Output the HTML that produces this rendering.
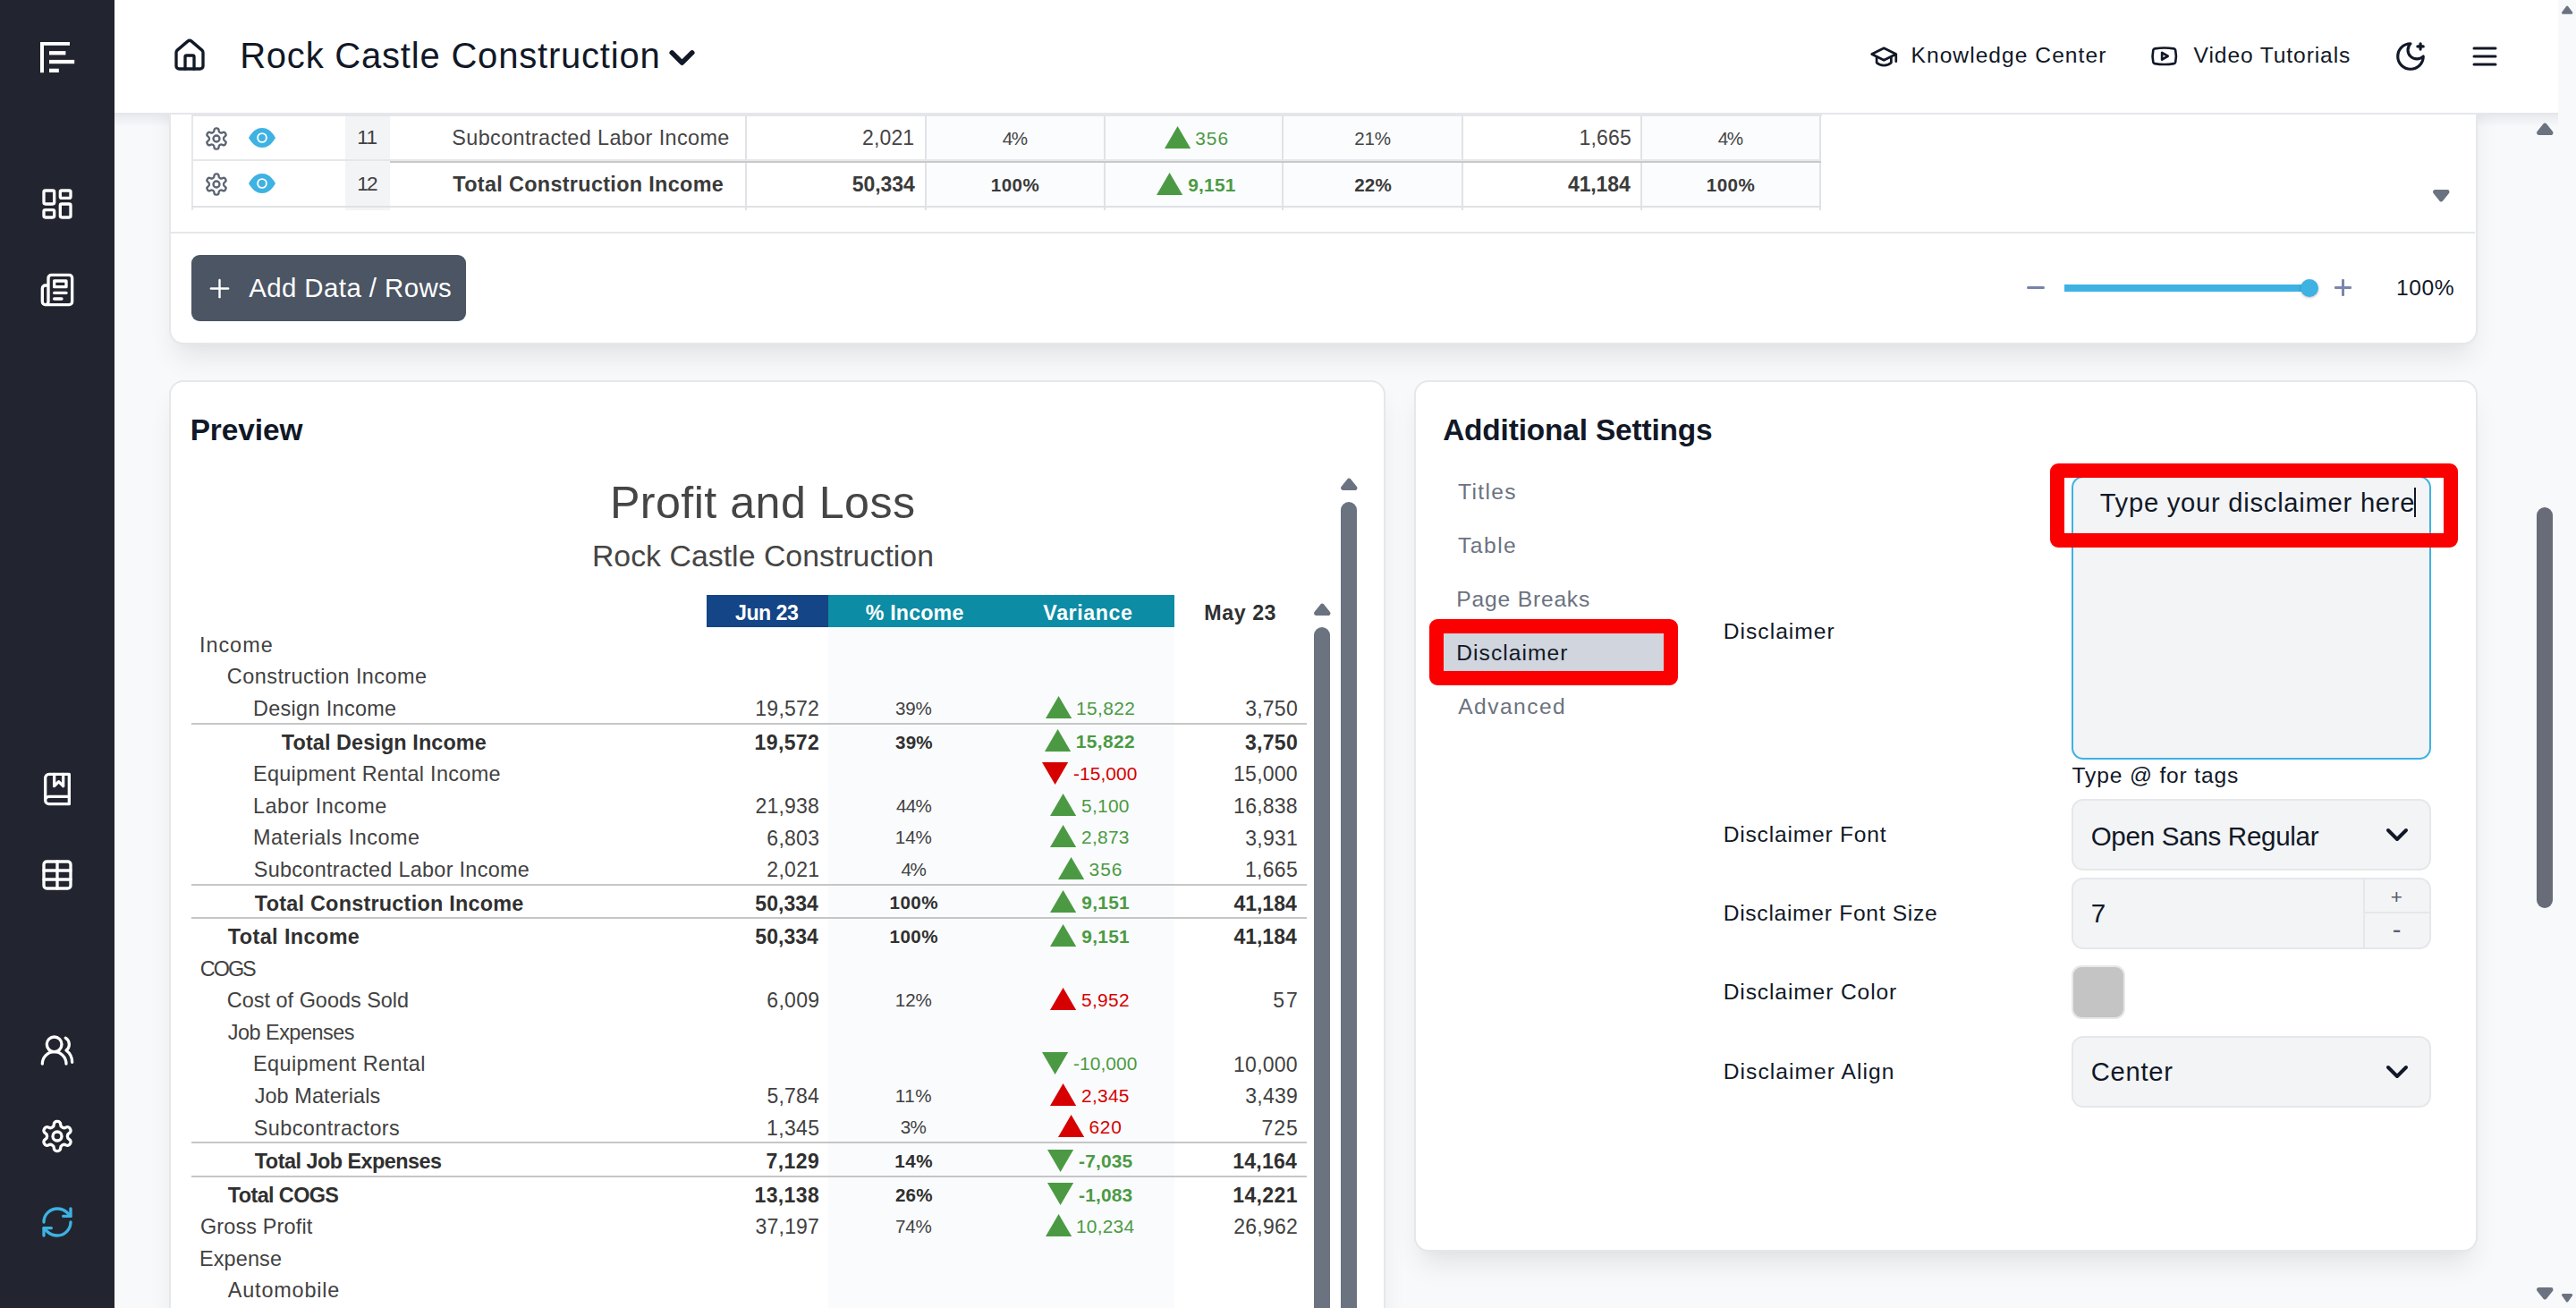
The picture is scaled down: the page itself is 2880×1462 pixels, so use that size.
<!DOCTYPE html>
<html lang="en"><head><meta charset="utf-8"><title>Rock Castle Construction - Report Editor</title>
<style>
html,body{margin:0;padding:0;}
html{overflow:hidden;background:#f8f9fb;}
@media (max-width:1600px){html{zoom:.5;}}
body{width:2880px;height:1462px;overflow:hidden;position:relative;background:#f8f9fb;font-family:"Liberation Sans",sans-serif;color:#111827;}
.t{position:absolute;white-space:nowrap;font-family:"Liberation Sans",sans-serif;}
.abs{position:absolute;}
svg{position:absolute;overflow:visible;}
.ic{fill:none;stroke:currentColor;stroke-width:2;stroke-linecap:round;stroke-linejoin:round;}
#sidebar{left:0;top:0;width:128px;height:1462px;background:#22252f;}
#header{left:128px;top:0;width:2732px;height:126px;background:#fff;}
#hshadow{left:128px;top:126px;width:2732px;height:2px;background:#e5e7eb;}
#hgrad{left:128px;top:128px;width:2732px;height:14px;background:linear-gradient(#e9eaee,rgba(248,249,251,0));}
#main{left:128px;top:126px;width:2732px;height:1336px;overflow:hidden;}
.card{position:absolute;background:#fff;border:2px solid #e5e7eb;box-sizing:border-box;border-radius:16px;box-shadow:0 20px 30px -6px rgba(0,0,0,.085),0 8px 12px -8px rgba(0,0,0,.03);}
</style></head><body>

<div id="main" class="abs"><div class="abs" style="left:-128px;top:-126px;width:2880px;height:1462px;">
<div id="hgrad" class="abs"></div>
<div class="card" style="left:189px;top:-40px;width:2581px;height:425px;"></div>
<div class="abs" style="left:1036px;top:126px;width:198.5px;height:108px;background:#fbfcfe;"></div>
<div class="abs" style="left:1236px;top:126px;width:197.5px;height:108px;background:#fbfcfe;"></div>
<div class="abs" style="left:1435px;top:126px;width:199px;height:108px;background:#fbfcfe;"></div>
<div class="abs" style="left:1836px;top:126px;width:198px;height:108px;background:#fbfcfe;"></div>
<div class="abs" style="left:386px;top:126px;width:50px;height:109px;background:#f3f4f6;"></div>
<div class="abs" style="left:214px;top:126px;width:2px;height:109px;background:#e5e7eb;"></div>
<div class="abs" style="left:833.4px;top:126px;width:2px;height:109px;background:#e1e2e6;"></div>
<div class="abs" style="left:1034.4px;top:126px;width:2px;height:109px;background:#e1e2e6;"></div>
<div class="abs" style="left:1234.2px;top:126px;width:2px;height:109px;background:#e1e2e6;"></div>
<div class="abs" style="left:1433.4px;top:126px;width:2px;height:109px;background:#e1e2e6;"></div>
<div class="abs" style="left:1633.6px;top:126px;width:2px;height:109px;background:#e1e2e6;"></div>
<div class="abs" style="left:1834px;top:126px;width:2px;height:109px;background:#e1e2e6;"></div>
<div class="abs" style="left:2034px;top:126px;width:2px;height:109px;background:#e1e2e6;"></div>
<div class="abs" style="left:214px;top:178px;width:1822px;height:2px;background:#e5e7eb;"></div>
<div class="abs" style="left:436px;top:180px;width:1600px;height:2px;background:#c9c9c9;"></div>
<div class="abs" style="left:214px;top:230px;width:1822px;height:2px;background:#e0e1e5;"></div>
<div class="abs" style="left:386px;top:232px;width:50px;height:3px;background:#f3f4f6;"></div>
<div class="abs" style="left:214px;top:126px;width:1823px;height:4px;background:#e4e5e9;"></div>
<svg class="ic" style="left:228.00px;top:141.30px;color:#5d6474;stroke-width:2;" width="28" height="28" viewBox="0 0 24 24"><path d="M12.22 2h-.44a2 2 0 0 0-2 2v.18a2 2 0 0 1-1 1.73l-.43.25a2 2 0 0 1-2 0l-.15-.08a2 2 0 0 0-2.73.73l-.22.38a2 2 0 0 0 .73 2.73l.15.1a2 2 0 0 1 1 1.72v.51a2 2 0 0 1-1 1.74l-.15.09a2 2 0 0 0-.73 2.73l.22.38a2 2 0 0 0 2.73.73l.15-.08a2 2 0 0 1 2 0l.43.25a2 2 0 0 1 1 1.73V20a2 2 0 0 0 2 2h.44a2 2 0 0 0 2-2v-.18a2 2 0 0 1 1-1.73l.43-.25a2 2 0 0 1 2 0l.15.08a2 2 0 0 0 2.73-.73l.22-.39a2 2 0 0 0-.73-2.73l-.15-.08a2 2 0 0 1-1-1.74v-.5a2 2 0 0 1 1-1.74l.15-.09a2 2 0 0 0 .73-2.73l-.22-.38a2 2 0 0 0-2.73-.73l-.15.08a2 2 0 0 1-2 0l-.43-.25a2 2 0 0 1-1-1.73V4a2 2 0 0 0-2-2z"/><circle cx="12" cy="12" r="3"/></svg>
<svg style="left:278.00px;top:143.10px;" width="30" height="22" viewBox="0 0 30 22"><path d="M0 11 C4.5 3.2 9.5 0 15 0 C20.5 0 25.5 3.2 30 11 C25.5 18.8 20.5 22 15 22 C9.5 22 4.5 18.8 0 11 Z" fill="#3db2e3"/><circle cx="15" cy="11" r="4.9" fill="none" stroke="#fff" stroke-width="1.9"/></svg>
<div class="t " style="left:399.34px;top:139.47px;font-size:22.60px;line-height:29px;color:#414141;letter-spacing:-0.810px;">11</div>
<div class="t " style="left:505.32px;top:138.69px;font-size:23.40px;line-height:30px;color:#444444;letter-spacing:0.384px;">Subcontracted Labor Income</div>
<div class="t " style="left:963.97px;top:138.83px;font-size:23.00px;line-height:30px;color:#444444;letter-spacing:0.145px;">2,021</div>
<div class="t " style="left:1120.80px;top:141.16px;font-size:20.60px;line-height:27px;color:#444444;letter-spacing:-1.450px;">4%</div>
<svg style="left:1301.76px;top:141.00px;" width="29.2" height="25" viewBox="0 0 29.2 25"><polygon points="14.60,0 29.20,25 0,25" fill="#4b9a43"/></svg>
<div class="t " style="left:1336.15px;top:140.56px;font-size:20.90px;line-height:27px;color:#4b9a43;letter-spacing:1.073px;">356</div>
<div class="t " style="left:1514.25px;top:141.16px;font-size:20.60px;line-height:27px;color:#444444;letter-spacing:-0.195px;">21%</div>
<div class="t " style="left:1765.42px;top:138.83px;font-size:23.00px;line-height:30px;color:#444444;letter-spacing:0.193px;">1,665</div>
<div class="t " style="left:1920.80px;top:141.16px;font-size:20.60px;line-height:27px;color:#444444;letter-spacing:-1.450px;">4%</div>
<svg class="ic" style="left:228.00px;top:192.00px;color:#5d6474;stroke-width:2;" width="28" height="28" viewBox="0 0 24 24"><path d="M12.22 2h-.44a2 2 0 0 0-2 2v.18a2 2 0 0 1-1 1.73l-.43.25a2 2 0 0 1-2 0l-.15-.08a2 2 0 0 0-2.73.73l-.22.38a2 2 0 0 0 .73 2.73l.15.1a2 2 0 0 1 1 1.72v.51a2 2 0 0 1-1 1.74l-.15.09a2 2 0 0 0-.73 2.73l.22.38a2 2 0 0 0 2.73.73l.15-.08a2 2 0 0 1 2 0l.43.25a2 2 0 0 1 1 1.73V20a2 2 0 0 0 2 2h.44a2 2 0 0 0 2-2v-.18a2 2 0 0 1 1-1.73l.43-.25a2 2 0 0 1 2 0l.15.08a2 2 0 0 0 2.73-.73l.22-.39a2 2 0 0 0-.73-2.73l-.15-.08a2 2 0 0 1-1-1.74v-.5a2 2 0 0 1 1-1.74l.15-.09a2 2 0 0 0 .73-2.73l-.22-.38a2 2 0 0 0-2.73-.73l-.15.08a2 2 0 0 1-2 0l-.43-.25a2 2 0 0 1-1-1.73V4a2 2 0 0 0-2-2z"/><circle cx="12" cy="12" r="3"/></svg>
<svg style="left:278.00px;top:193.80px;" width="30" height="22" viewBox="0 0 30 22"><path d="M0 11 C4.5 3.2 9.5 0 15 0 C20.5 0 25.5 3.2 30 11 C25.5 18.8 20.5 22 15 22 C9.5 22 4.5 18.8 0 11 Z" fill="#3db2e3"/><circle cx="15" cy="11" r="4.9" fill="none" stroke="#fff" stroke-width="1.9"/></svg>
<div class="t " style="left:399.34px;top:191.47px;font-size:22.60px;line-height:29px;color:#414141;letter-spacing:-1.980px;">12</div>
<div class="t " style="left:506.34px;top:190.69px;font-size:23.40px;line-height:30px;color:#3a3a3a;font-weight:700;letter-spacing:0.330px;">Total Construction Income</div>
<div class="t " style="left:952.78px;top:190.83px;font-size:23.00px;line-height:30px;color:#3a3a3a;font-weight:700;letter-spacing:-0.087px;">50,334</div>
<div class="t " style="left:1107.69px;top:193.16px;font-size:20.60px;line-height:27px;color:#3a3a3a;font-weight:700;letter-spacing:0.490px;">100%</div>
<svg style="left:1293.01px;top:192.90px;" width="29.2" height="25" viewBox="0 0 29.2 25"><polygon points="14.60,0 29.20,25 0,25" fill="#4b9a43"/></svg>
<div class="t " style="left:1328.14px;top:192.56px;font-size:20.90px;line-height:27px;color:#4b9a43;font-weight:700;letter-spacing:0.240px;">9,151</div>
<div class="t " style="left:1514.22px;top:193.16px;font-size:20.60px;line-height:27px;color:#3a3a3a;font-weight:700;letter-spacing:0.155px;">22%</div>
<div class="t " style="left:1753.01px;top:190.83px;font-size:23.00px;line-height:30px;color:#3a3a3a;font-weight:700;letter-spacing:-0.131px;">41,184</div>
<div class="t " style="left:1907.69px;top:193.16px;font-size:20.60px;line-height:27px;color:#3a3a3a;font-weight:700;letter-spacing:0.490px;">100%</div>
<div class="abs" style="left:191px;top:259px;width:2576px;height:2px;background:#e5e7eb;"></div>
<div class="abs" style="left:214px;top:285px;width:307px;height:74px;background:#4b5563;border-radius:9px;"></div>
<svg class="ic" style="left:229.30px;top:306.00px;color:#fff;stroke-width:1.75;" width="33" height="33" viewBox="0 0 24 24"><path d="M5 12h14"/><path d="M12 5v14"/></svg>
<div class="t " style="left:278.13px;top:303.01px;font-size:29.40px;line-height:38px;color:#fff;letter-spacing:0.439px;">Add Data / Rows</div>
<div class="abs" style="left:2266px;top:319.5px;width:20px;height:3px;background:#7883ab;border-radius:1.5px;"></div>
<div class="abs" style="left:2308px;top:317.5px;width:275px;height:8.5px;background:#3db2e3;"></div>
<div class="abs" style="left:2571.5px;top:311.8px;width:20.4px;height:20.4px;background:#3db2e3;border-radius:50%;box-shadow:0 1px 3px rgba(0,0,0,.25);"></div>
<div class="abs" style="left:2609.7px;top:320.2px;width:19.6px;height:2.6px;background:#7b86ad;border-radius:1px;"></div>
<div class="abs" style="left:2618.2px;top:311.7px;width:2.6px;height:19.6px;background:#7b86ad;border-radius:1px;"></div>
<div class="t " style="left:2679.09px;top:306.08px;font-size:24.60px;line-height:32px;color:#111827;letter-spacing:0.587px;">100%</div>
<svg style="left:2719.55px;top:212.00px;" width="18.5" height="14" viewBox="0 0 18.5 14"><path d="M2.40 2.40 L16.10 2.40 L9.25 11.00 Z" fill="#6b7280" stroke="#6b7280" stroke-width="4.8" stroke-linejoin="round"/></svg>
<div class="card" style="left:189px;top:425px;width:1360px;height:1100px;"></div>
<div class="t " style="left:212.65px;top:458.93px;font-size:33.40px;line-height:43px;color:#111827;font-weight:700;letter-spacing:-0.050px;">Preview</div>
<div class="t " style="left:681.89px;top:529.51px;font-size:50.20px;line-height:65px;color:#454545;letter-spacing:0.456px;">Profit and Loss</div>
<div class="t " style="left:661.92px;top:599.19px;font-size:33.80px;line-height:44px;color:#454545;letter-spacing:0.033px;">Rock Castle Construction</div>
<div class="abs" style="left:790px;top:665px;width:136px;height:36px;background:#144586;"></div>
<div class="abs" style="left:926px;top:665px;width:387px;height:36px;background:#0c8ca5;"></div>
<div class="abs" style="left:926px;top:701px;width:387px;height:761px;background:#fafbfd;"></div>
<div class="t " style="left:822.11px;top:669.96px;font-size:23.20px;line-height:30px;color:#fff;font-weight:700;letter-spacing:-0.544px;">Jun 23</div>
<div class="t " style="left:967.74px;top:669.96px;font-size:23.20px;line-height:30px;color:#fff;font-weight:700;letter-spacing:0.186px;">% Income</div>
<div class="t " style="left:1166.36px;top:669.96px;font-size:23.20px;line-height:30px;color:#fff;font-weight:700;letter-spacing:0.581px;">Variance</div>
<div class="t " style="left:1346.31px;top:669.96px;font-size:23.20px;line-height:30px;color:#303030;font-weight:700;letter-spacing:0.576px;">May 23</div>
<div class="t " style="left:222.88px;top:705.89px;font-size:23.40px;line-height:30px;color:#414141;letter-spacing:1.011px;">Income</div>
<div class="t " style="left:253.86px;top:741.47px;font-size:23.40px;line-height:30px;color:#414141;letter-spacing:0.478px;">Construction Income</div>
<div class="t " style="left:282.95px;top:777.05px;font-size:23.40px;line-height:30px;color:#414141;letter-spacing:0.348px;">Design Income</div>
<div class="t " style="left:844.30px;top:777.19px;font-size:23.00px;line-height:30px;color:#414141;letter-spacing:0.254px;">19,572</div>
<div class="t " style="left:1001.03px;top:777.92px;font-size:20.60px;line-height:27px;color:#414141;letter-spacing:-0.185px;">39%</div>
<svg style="left:1168.61px;top:777.86px;" width="29.2" height="25" viewBox="0 0 29.2 25"><polygon points="14.60,0 29.20,25 0,25" fill="#4b9a43"/></svg>
<div class="t " style="left:1203.00px;top:777.82px;font-size:20.90px;line-height:27px;color:#4b9a43;letter-spacing:0.375px;">15,822</div>
<div class="t " style="left:1392.18px;top:777.19px;font-size:23.00px;line-height:30px;color:#414141;letter-spacing:0.242px;">3,750</div>
<div class="abs" style="left:214px;top:807.89px;width:1247px;height:2px;background:#c6c6c6;"></div>
<div class="t " style="left:314.84px;top:814.63px;font-size:23.40px;line-height:30px;color:#303030;font-weight:700;letter-spacing:0.108px;">Total Design Income</div>
<div class="t " style="left:843.52px;top:814.77px;font-size:23.00px;line-height:30px;color:#303030;font-weight:700;letter-spacing:0.389px;">19,572</div>
<div class="t " style="left:1001.08px;top:815.50px;font-size:20.60px;line-height:27px;color:#303030;font-weight:700;letter-spacing:0.125px;">39%</div>
<svg style="left:1168.20px;top:815.44px;" width="29.2" height="25" viewBox="0 0 29.2 25"><polygon points="14.60,0 29.20,25 0,25" fill="#4b9a43"/></svg>
<div class="t " style="left:1202.72px;top:815.40px;font-size:20.90px;line-height:27px;color:#4b9a43;font-weight:700;letter-spacing:0.377px;">15,822</div>
<div class="t " style="left:1392.01px;top:814.77px;font-size:23.00px;line-height:30px;color:#303030;font-weight:700;letter-spacing:0.291px;">3,750</div>
<div class="t " style="left:282.95px;top:850.21px;font-size:23.40px;line-height:30px;color:#414141;letter-spacing:0.337px;">Equipment Rental Income</div>
<svg style="left:1165.32px;top:851.87px;" width="29.2" height="25" viewBox="0 0 29.2 25"><polygon points="0,0 29.20,0 14.60,25" fill="#d60000"/></svg>
<div class="t " style="left:1199.97px;top:850.98px;font-size:20.90px;line-height:27px;color:#d60000;letter-spacing:0.085px;">-15,000</div>
<div class="t " style="left:1379.10px;top:850.35px;font-size:23.00px;line-height:30px;color:#414141;letter-spacing:0.234px;">15,000</div>
<div class="t " style="left:282.95px;top:885.79px;font-size:23.40px;line-height:30px;color:#414141;letter-spacing:0.567px;">Labor Income</div>
<div class="t " style="left:844.55px;top:885.93px;font-size:23.00px;line-height:30px;color:#414141;letter-spacing:0.194px;">21,938</div>
<div class="t " style="left:1001.88px;top:886.66px;font-size:20.60px;line-height:27px;color:#414141;letter-spacing:-0.610px;">44%</div>
<svg style="left:1174.46px;top:886.60px;" width="29.2" height="25" viewBox="0 0 29.2 25"><polygon points="14.60,0 29.20,25 0,25" fill="#4b9a43"/></svg>
<div class="t " style="left:1209.07px;top:886.56px;font-size:20.90px;line-height:27px;color:#4b9a43;letter-spacing:0.267px;">5,100</div>
<div class="t " style="left:1379.10px;top:885.93px;font-size:23.00px;line-height:30px;color:#414141;letter-spacing:0.244px;">16,838</div>
<div class="t " style="left:282.95px;top:921.37px;font-size:23.40px;line-height:30px;color:#414141;letter-spacing:0.539px;">Materials Income</div>
<div class="t " style="left:857.35px;top:921.51px;font-size:23.00px;line-height:30px;color:#414141;letter-spacing:0.269px;">6,803</div>
<div class="t " style="left:1000.83px;top:922.24px;font-size:20.60px;line-height:27px;color:#414141;letter-spacing:-0.085px;">14%</div>
<svg style="left:1174.46px;top:922.18px;" width="29.2" height="25" viewBox="0 0 29.2 25"><polygon points="14.60,0 29.20,25 0,25" fill="#4b9a43"/></svg>
<div class="t " style="left:1209.08px;top:922.14px;font-size:20.90px;line-height:27px;color:#4b9a43;letter-spacing:0.277px;">2,873</div>
<div class="t " style="left:1392.18px;top:921.51px;font-size:23.00px;line-height:30px;color:#414141;letter-spacing:0.267px;">3,931</div>
<div class="t " style="left:283.82px;top:956.95px;font-size:23.40px;line-height:30px;color:#414141;letter-spacing:0.303px;">Subcontracted Labor Income</div>
<div class="t " style="left:857.36px;top:957.09px;font-size:23.00px;line-height:30px;color:#414141;letter-spacing:0.272px;">2,021</div>
<div class="t " style="left:1007.60px;top:957.82px;font-size:20.60px;line-height:27px;color:#414141;letter-spacing:-1.450px;">4%</div>
<svg style="left:1182.81px;top:957.76px;" width="29.2" height="25" viewBox="0 0 29.2 25"><polygon points="14.60,0 29.20,25 0,25" fill="#4b9a43"/></svg>
<div class="t " style="left:1217.40px;top:957.72px;font-size:20.90px;line-height:27px;color:#4b9a43;letter-spacing:1.116px;">356</div>
<div class="t " style="left:1391.91px;top:957.09px;font-size:23.00px;line-height:30px;color:#414141;letter-spacing:0.319px;">1,665</div>
<div class="abs" style="left:214px;top:987.79px;width:1247px;height:2px;background:#c6c6c6;"></div>
<div class="t " style="left:284.84px;top:994.53px;font-size:23.40px;line-height:30px;color:#303030;font-weight:700;letter-spacing:0.248px;">Total Construction Income</div>
<div class="t " style="left:844.35px;top:994.67px;font-size:23.00px;line-height:30px;color:#303030;font-weight:700;letter-spacing:0.039px;">50,334</div>
<div class="t " style="left:994.49px;top:995.40px;font-size:20.60px;line-height:27px;color:#303030;font-weight:700;letter-spacing:0.490px;">100%</div>
<svg style="left:1174.04px;top:995.34px;" width="29.2" height="25" viewBox="0 0 29.2 25"><polygon points="14.60,0 29.20,25 0,25" fill="#4b9a43"/></svg>
<div class="t " style="left:1209.37px;top:995.30px;font-size:20.90px;line-height:27px;color:#4b9a43;font-weight:700;letter-spacing:0.272px;">9,151</div>
<div class="t " style="left:1379.38px;top:994.67px;font-size:23.00px;line-height:30px;color:#303030;font-weight:700;">41,184</div>
<div class="abs" style="left:214px;top:1025.37px;width:1247px;height:2px;background:#c6c6c6;"></div>
<div class="t " style="left:254.84px;top:1032.11px;font-size:23.40px;line-height:30px;color:#303030;font-weight:700;letter-spacing:0.408px;">Total Income</div>
<div class="t " style="left:844.35px;top:1032.25px;font-size:23.00px;line-height:30px;color:#303030;font-weight:700;letter-spacing:0.039px;">50,334</div>
<div class="t " style="left:994.49px;top:1032.98px;font-size:20.60px;line-height:27px;color:#303030;font-weight:700;letter-spacing:0.490px;">100%</div>
<svg style="left:1174.04px;top:1032.92px;" width="29.2" height="25" viewBox="0 0 29.2 25"><polygon points="14.60,0 29.20,25 0,25" fill="#4b9a43"/></svg>
<div class="t " style="left:1209.37px;top:1032.88px;font-size:20.90px;line-height:27px;color:#4b9a43;font-weight:700;letter-spacing:0.272px;">9,151</div>
<div class="t " style="left:1379.38px;top:1032.25px;font-size:23.00px;line-height:30px;color:#303030;font-weight:700;">41,184</div>
<div class="t " style="left:223.86px;top:1067.69px;font-size:23.40px;line-height:30px;color:#414141;letter-spacing:-2.025px;">COGS</div>
<div class="t " style="left:253.86px;top:1103.27px;font-size:23.40px;line-height:30px;color:#414141;letter-spacing:0.024px;">Cost of Goods Sold</div>
<div class="t " style="left:857.35px;top:1103.41px;font-size:23.00px;line-height:30px;color:#414141;letter-spacing:0.274px;">6,009</div>
<div class="t " style="left:1000.83px;top:1104.14px;font-size:20.60px;line-height:27px;color:#414141;letter-spacing:-0.085px;">12%</div>
<svg style="left:1174.46px;top:1104.08px;" width="29.2" height="25" viewBox="0 0 29.2 25"><polygon points="14.60,0 29.20,25 0,25" fill="#d60000"/></svg>
<div class="t " style="left:1209.07px;top:1104.04px;font-size:20.90px;line-height:27px;color:#d60000;letter-spacing:0.292px;">5,952</div>
<div class="t " style="left:1423.29px;top:1103.41px;font-size:23.00px;line-height:30px;color:#414141;letter-spacing:1.966px;">57</div>
<div class="t " style="left:254.67px;top:1138.85px;font-size:23.40px;line-height:30px;color:#414141;letter-spacing:-0.465px;">Job Expenses</div>
<div class="t " style="left:282.95px;top:1174.43px;font-size:23.40px;line-height:30px;color:#414141;letter-spacing:0.442px;">Equipment Rental</div>
<svg style="left:1165.32px;top:1176.09px;" width="29.2" height="25" viewBox="0 0 29.2 25"><polygon points="0,0 29.20,0 14.60,25" fill="#4b9a43"/></svg>
<div class="t " style="left:1199.97px;top:1175.20px;font-size:20.90px;line-height:27px;color:#4b9a43;letter-spacing:0.085px;">-10,000</div>
<div class="t " style="left:1379.10px;top:1174.57px;font-size:23.00px;line-height:30px;color:#414141;letter-spacing:0.234px;">10,000</div>
<div class="t " style="left:284.67px;top:1210.01px;font-size:23.40px;line-height:30px;color:#414141;letter-spacing:0.115px;">Job Materials</div>
<div class="t " style="left:857.40px;top:1210.15px;font-size:23.00px;line-height:30px;color:#414141;letter-spacing:0.217px;">5,784</div>
<div class="t " style="left:1000.83px;top:1210.88px;font-size:20.60px;line-height:27px;color:#414141;letter-spacing:0.515px;">11%</div>
<svg style="left:1174.46px;top:1210.82px;" width="29.2" height="25" viewBox="0 0 29.2 25"><polygon points="14.60,0 29.20,25 0,25" fill="#d60000"/></svg>
<div class="t " style="left:1209.08px;top:1210.78px;font-size:20.90px;line-height:27px;color:#d60000;letter-spacing:0.272px;">2,345</div>
<div class="t " style="left:1392.18px;top:1210.15px;font-size:23.00px;line-height:30px;color:#414141;letter-spacing:0.264px;">3,439</div>
<div class="t " style="left:283.82px;top:1245.59px;font-size:23.40px;line-height:30px;color:#414141;letter-spacing:0.435px;">Subcontractors</div>
<div class="t " style="left:857.11px;top:1245.73px;font-size:23.00px;line-height:30px;color:#414141;letter-spacing:0.319px;">1,345</div>
<div class="t " style="left:1006.75px;top:1246.46px;font-size:20.60px;line-height:27px;color:#414141;letter-spacing:-0.600px;">3%</div>
<svg style="left:1182.81px;top:1246.40px;" width="29.2" height="25" viewBox="0 0 29.2 25"><polygon points="14.60,0 29.20,25 0,25" fill="#d60000"/></svg>
<div class="t " style="left:1217.42px;top:1246.36px;font-size:20.90px;line-height:27px;color:#d60000;letter-spacing:0.786px;">620</div>
<div class="t " style="left:1410.46px;top:1245.73px;font-size:23.00px;line-height:30px;color:#414141;letter-spacing:0.923px;">725</div>
<div class="abs" style="left:214px;top:1276.43px;width:1247px;height:2px;background:#c6c6c6;"></div>
<div class="t " style="left:284.84px;top:1283.17px;font-size:23.40px;line-height:30px;color:#303030;font-weight:700;letter-spacing:-0.508px;">Total Job Expenses</div>
<div class="t " style="left:856.50px;top:1283.31px;font-size:23.00px;line-height:30px;color:#303030;font-weight:700;letter-spacing:0.459px;">7,129</div>
<div class="t " style="left:1000.20px;top:1284.04px;font-size:20.60px;line-height:27px;color:#303030;font-weight:700;letter-spacing:0.565px;">14%</div>
<svg style="left:1170.75px;top:1284.83px;" width="29.2" height="25" viewBox="0 0 29.2 25"><polygon points="0,0 29.20,0 14.60,25" fill="#4b9a43"/></svg>
<div class="t " style="left:1206.06px;top:1283.94px;font-size:20.90px;line-height:27px;color:#4b9a43;font-weight:700;letter-spacing:0.161px;">-7,035</div>
<div class="t " style="left:1378.32px;top:1283.31px;font-size:23.00px;line-height:30px;color:#303030;font-weight:700;letter-spacing:0.205px;">14,164</div>
<div class="abs" style="left:214px;top:1314.01px;width:1247px;height:2px;background:#c6c6c6;"></div>
<div class="t " style="left:254.84px;top:1320.75px;font-size:23.40px;line-height:30px;color:#303030;font-weight:700;letter-spacing:-0.601px;">Total COGS</div>
<div class="t " style="left:843.52px;top:1320.89px;font-size:23.00px;line-height:30px;color:#303030;font-weight:700;letter-spacing:0.373px;">13,138</div>
<div class="t " style="left:1001.02px;top:1321.62px;font-size:20.60px;line-height:27px;color:#303030;font-weight:700;letter-spacing:0.155px;">26%</div>
<svg style="left:1170.75px;top:1322.41px;" width="29.2" height="25" viewBox="0 0 29.2 25"><polygon points="0,0 29.20,0 14.60,25" fill="#4b9a43"/></svg>
<div class="t " style="left:1206.06px;top:1321.52px;font-size:20.90px;line-height:27px;color:#4b9a43;font-weight:700;letter-spacing:0.179px;">-1,083</div>
<div class="t " style="left:1378.32px;top:1320.89px;font-size:23.00px;line-height:30px;color:#303030;font-weight:700;letter-spacing:0.363px;">14,221</div>
<div class="t " style="left:223.88px;top:1356.33px;font-size:23.40px;line-height:30px;color:#414141;letter-spacing:0.178px;">Gross Profit</div>
<div class="t " style="left:844.57px;top:1356.47px;font-size:23.00px;line-height:30px;color:#414141;letter-spacing:0.198px;">37,197</div>
<div class="t " style="left:1001.04px;top:1357.20px;font-size:20.60px;line-height:27px;color:#414141;letter-spacing:-0.185px;">74%</div>
<svg style="left:1168.61px;top:1357.14px;" width="29.2" height="25" viewBox="0 0 29.2 25"><polygon points="14.60,0 29.20,25 0,25" fill="#4b9a43"/></svg>
<div class="t " style="left:1203.00px;top:1357.10px;font-size:20.90px;line-height:27px;color:#4b9a43;letter-spacing:0.221px;">10,234</div>
<div class="t " style="left:1379.35px;top:1356.47px;font-size:23.00px;line-height:30px;color:#414141;letter-spacing:0.204px;">26,962</div>
<div class="t " style="left:222.95px;top:1391.91px;font-size:23.40px;line-height:30px;color:#414141;letter-spacing:0.159px;">Expense</div>
<div class="t " style="left:254.84px;top:1427.49px;font-size:23.40px;line-height:30px;color:#414141;letter-spacing:0.826px;">Automobile</div>
<svg style="left:1468.75px;top:674.00px;" width="18.5" height="14" viewBox="0 0 18.5 14"><path d="M9.25 3.00 L16.10 11.60 L2.40 11.60 Z" fill="#6b7280" stroke="#6b7280" stroke-width="4.8" stroke-linejoin="round"/></svg>
<div class="abs" style="left:1469.2px;top:701px;width:17.8px;height:800px;background:#6b7280;border-radius:9px;"></div>
<svg style="left:1498.75px;top:534.00px;" width="18.5" height="14" viewBox="0 0 18.5 14"><path d="M9.25 3.00 L16.10 11.60 L2.40 11.60 Z" fill="#6b7280" stroke="#6b7280" stroke-width="4.8" stroke-linejoin="round"/></svg>
<div class="abs" style="left:1499.1px;top:561px;width:17.8px;height:940px;background:#6b7280;border-radius:9px;"></div>
<div class="card" style="left:1581px;top:425px;width:1189px;height:974px;"></div>
<div class="t " style="left:1613.13px;top:458.93px;font-size:33.40px;line-height:43px;color:#111827;font-weight:700;letter-spacing:-0.148px;">Additional Settings</div>
<div class="abs" style="left:1606px;top:700px;width:262px;height:58px;background:#d1d5de;"></div>
<div class="t " style="left:1630.11px;top:534.48px;font-size:24.60px;line-height:32px;color:#6b7280;letter-spacing:1.332px;">Titles</div>
<div class="t " style="left:1630.11px;top:594.48px;font-size:24.60px;line-height:32px;color:#6b7280;letter-spacing:1.461px;">Table</div>
<div class="t " style="left:1628.33px;top:654.28px;font-size:24.60px;line-height:32px;color:#6b7280;letter-spacing:0.814px;">Page Breaks</div>
<div class="t " style="left:1628.33px;top:714.28px;font-size:24.60px;line-height:32px;color:#111827;letter-spacing:1.028px;">Disclaimer</div>
<div class="t " style="left:1630.24px;top:774.28px;font-size:24.60px;line-height:32px;color:#6b7280;letter-spacing:1.449px;">Advanced</div>
<div class="abs" style="left:1598px;top:692px;width:278px;height:74px;border:16px solid #fb0000;border-radius:9px;box-sizing:border-box;"></div>
<div class="t " style="left:1926.73px;top:690.48px;font-size:24.60px;line-height:32px;color:#111827;letter-spacing:1.028px;">Disclaimer</div>
<div class="t " style="left:1926.73px;top:916.68px;font-size:24.60px;line-height:32px;color:#111827;letter-spacing:0.791px;">Disclaimer Font</div>
<div class="t " style="left:1926.73px;top:1004.78px;font-size:24.60px;line-height:32px;color:#111827;letter-spacing:0.711px;">Disclaimer Font Size</div>
<div class="t " style="left:1926.73px;top:1092.98px;font-size:24.60px;line-height:32px;color:#111827;letter-spacing:0.874px;">Disclaimer Color</div>
<div class="t " style="left:1926.73px;top:1181.58px;font-size:24.60px;line-height:32px;color:#111827;letter-spacing:1.053px;">Disclaimer Align</div>
<div class="abs" style="left:2316.3px;top:532px;width:401.6px;height:316.5px;background:#f3f4f6;border:2px solid #3db2e3;border-radius:13px;box-sizing:border-box;"></div>
<div class="t " style="left:2347.67px;top:542.58px;font-size:29.20px;line-height:38px;color:#111827;letter-spacing:0.737px;">Type your disclaimer here</div>
<div class="abs" style="left:2699.4px;top:545.3px;width:2px;height:33px;background:#111827;"></div>
<div class="abs" style="left:2292px;top:518px;width:456px;height:94.2px;border:16px solid #fb0000;border-radius:9px;box-sizing:border-box;"></div>
<div class="t " style="left:2316.61px;top:851.48px;font-size:24.60px;line-height:32px;color:#111827;letter-spacing:0.833px;">Type @ for tags</div>
<div class="abs" style="left:2316.2px;top:893.2px;width:401.8px;height:79.4px;background:#f3f4f6;border:2px solid #e5e7eb;border-radius:13px;box-sizing:border-box;"></div>
<div class="t " style="left:2337.67px;top:915.64px;font-size:29.60px;line-height:38px;color:#111827;letter-spacing:-0.312px;">Open Sans Regular</div>
<svg class="ic" style="left:2660.00px;top:913.20px;color:#111827;stroke-width:2.4;" width="40" height="40" viewBox="0 0 24 24"><path d="m6 9 6 6 6-6"/></svg>
<div class="abs" style="left:2316.2px;top:981.2px;width:401.8px;height:79.4px;background:#f3f4f6;border:2px solid #e5e7eb;border-radius:13px;box-sizing:border-box;"></div>
<div class="t " style="left:2337.73px;top:1001.94px;font-size:29.60px;line-height:38px;color:#111827;">7</div>
<div class="abs" style="left:2641.5px;top:983px;width:2px;height:76px;background:#e5e7eb;"></div>
<div class="abs" style="left:2643px;top:1018.8px;width:73px;height:2px;background:#e5e7eb;"></div>
<div class="t " style="left:2672.85px;top:987.90px;font-size:22.50px;line-height:29px;color:#56606e;">+</div>
<div class="t " style="left:2674.75px;top:1020.15px;font-size:29.00px;line-height:38px;color:#56606e;">-</div>
<div class="abs" style="left:2316.2px;top:1079.2px;width:59.6px;height:59.4px;background:#c4c4c4;border:2px solid #e5e7eb;border-radius:11px;box-sizing:border-box;"></div>
<div class="abs" style="left:2316.2px;top:1158.2px;width:401.8px;height:79.4px;background:#f3f4f6;border:2px solid #e5e7eb;border-radius:13px;box-sizing:border-box;"></div>
<div class="t " style="left:2337.64px;top:1179.28px;font-size:29.20px;line-height:38px;color:#111827;letter-spacing:0.740px;">Center</div>
<svg class="ic" style="left:2660.00px;top:1178.20px;color:#111827;stroke-width:2.4;" width="40" height="40" viewBox="0 0 24 24"><path d="m6 9 6 6 6-6"/></svg>
</div></div>
<svg style="left:2835.75px;top:137.00px;" width="18.5" height="14" viewBox="0 0 18.5 14"><path d="M9.25 3.00 L16.10 11.60 L2.40 11.60 Z" fill="#6b7280" stroke="#6b7280" stroke-width="4.8" stroke-linejoin="round"/></svg>
<div class="abs" style="left:2836px;top:566.5px;width:18px;height:448.5px;background:#676c78;border-radius:9px;"></div>
<svg style="left:2836.25px;top:1439.20px;" width="18.5" height="14" viewBox="0 0 18.5 14"><path d="M2.40 2.40 L16.10 2.40 L9.25 11.00 Z" fill="#6b7280" stroke="#6b7280" stroke-width="4.8" stroke-linejoin="round"/></svg>
<svg style="left:2863.85px;top:6.00px;" width="12.3" height="9.8" viewBox="0 0 12.3 9.8"><path d="M6.15 2.10 L10.80 8.30 L1.50 8.30 Z" fill="#6b7280" stroke="#6b7280" stroke-width="3.0" stroke-linejoin="round"/></svg>
<svg style="left:2864.00px;top:1445.85px;" width="12.2" height="10.1" viewBox="0 0 12.2 10.1"><path d="M1.50 1.50 L10.70 1.50 L6.10 8.00 Z" fill="#6b7280" stroke="#6b7280" stroke-width="3.0" stroke-linejoin="round"/></svg>
<div id="hshadow" class="abs"></div><div id="header" class="abs"></div>
<svg class="ic" style="left:192.00px;top:42.20px;color:#111827;stroke-width:2;" width="40" height="40" viewBox="0 0 24 24"><path d="M15 21v-8a1 1 0 0 0-1-1h-4a1 1 0 0 0-1 1v8"/><path d="M3 10a2 2 0 0 1 .709-1.528l7-5.999a2 2 0 0 1 2.582 0l7 5.999A2 2 0 0 1 21 10v9a2 2 0 0 1-2 2H5a2 2 0 0 1-2-2z"/></svg>
<div class="t " style="left:268.13px;top:36.34px;font-size:40.00px;line-height:52px;color:#111827;letter-spacing:0.796px;">Rock Castle Construction</div>
<svg class="ic" style="left:740.40px;top:41.90px;color:#111827;stroke-width:3;" width="45" height="45" viewBox="0 0 24 24"><path d="m6 9 6 6 6-6"/></svg>
<svg class="ic" style="left:2089.85px;top:46.65px;color:#111827;stroke-width:2;" width="32.5" height="32.5" viewBox="0 0 24 24"><path d="M22 10v6M2 10l10-5 10 5-10 5z"/><path d="M6 12v5c3 3 9 3 12 0v-5"/></svg>
<div class="t " style="left:2136.53px;top:46.08px;font-size:24.60px;line-height:32px;color:#111827;letter-spacing:1.032px;">Knowledge Center</div>
<svg class="ic" style="left:2404.45px;top:46.95px;color:#111827;stroke-width:2;" width="31.5" height="31.5" viewBox="0 0 24 24"><path d="M2.5 17a24.12 24.12 0 0 1 0-10 2 2 0 0 1 1.4-1.4 49.56 49.56 0 0 1 16.2 0A2 2 0 0 1 21.5 7a24.12 24.12 0 0 1 0 10 2 2 0 0 1-1.4 1.4 49.55 49.55 0 0 1-16.2 0A2 2 0 0 1 2.5 17"/><path d="m10 15 5-3-5-3z"/></svg>
<div class="t " style="left:2452.61px;top:46.08px;font-size:24.60px;line-height:32px;color:#111827;letter-spacing:0.890px;">Video Tutorials</div>
<svg class="ic" style="left:2675.80px;top:43.80px;color:#111827;stroke-width:2;" width="38" height="38" viewBox="0 0 24 24"><path d="M12 3a6 6 0 0 0 9 9 9 9 0 1 1-9-9Z"/><path d="M19 3v4"/><path d="M21 5h-4"/></svg>
<svg class="ic" style="left:2759.80px;top:44.50px;color:#111827;stroke-width:2;" width="36" height="36" viewBox="0 0 24 24"><line x1="4" x2="20" y1="12" y2="12"/><line x1="4" x2="20" y1="6" y2="6"/><line x1="4" x2="20" y1="18" y2="18"/></svg>
<div id="sidebar" class="abs"></div>
<svg style="left:45px;top:46.8px;" width="40" height="36" viewBox="0 0 40 36"><g fill="#fff"><rect x="0" y="0" width="4" height="34.2"/><rect x="0" y="0" width="33" height="3.8"/><rect x="10" y="10.1" width="18.4" height="4.3"/><rect x="10" y="19.9" width="28.2" height="4.3"/><rect x="10" y="29.7" width="10.8" height="4.3"/></g></svg>
<svg class="ic" style="left:44.00px;top:208.00px;color:#fff;stroke-width:2;" width="40" height="40" viewBox="0 0 24 24"><rect width="7" height="9" x="3" y="3" rx="1"/><rect width="7" height="5" x="14" y="3" rx="1"/><rect width="7" height="9" x="14" y="12" rx="1"/><rect width="7" height="5" x="3" y="16" rx="1"/></svg>
<svg class="ic" style="left:44.20px;top:303.80px;color:#fff;stroke-width:2;" width="40" height="40" viewBox="0 0 24 24"><path d="M4 22h16a2 2 0 0 0 2-2V4a2 2 0 0 0-2-2H8a2 2 0 0 0-2 2v16a2 2 0 0 1-2 2Zm0 0a2 2 0 0 1-2-2v-9c0-1.1.9-2 2-2h2"/><path d="M18 14h-8"/><path d="M15 18h-5"/><path d="M10 6h8v4h-8V6Z"/></svg>
<svg class="ic" style="left:44.30px;top:862.00px;color:#fff;stroke-width:2;" width="40" height="40" viewBox="0 0 24 24"><path d="M4 19.5v-15A2.5 2.5 0 0 1 6.5 2H20v20H6.5a2.5 2.5 0 0 1 0-5H20"/><polyline points="10 2 10 10 13 7 16 10 16 2"/></svg>
<svg class="ic" style="left:44.00px;top:958.00px;color:#fff;stroke-width:2;" width="40" height="40" viewBox="0 0 24 24"><path d="M12 3v18"/><rect width="18" height="18" x="3" y="3" rx="2"/><path d="M3 9h18"/><path d="M3 15h18"/></svg>
<svg class="ic" style="left:44.00px;top:1154.00px;color:#fff;stroke-width:2;" width="40" height="40" viewBox="0 0 24 24"><path d="M18 21a8 8 0 0 0-16 0"/><circle cx="10" cy="8" r="5"/><path d="M22 20c0-3.37-2-6.5-4-8a5 5 0 0 0-.45-8.3"/></svg>
<svg class="ic" style="left:44.00px;top:1250.00px;color:#fff;stroke-width:2;" width="40" height="40" viewBox="0 0 24 24"><path d="M12.22 2h-.44a2 2 0 0 0-2 2v.18a2 2 0 0 1-1 1.73l-.43.25a2 2 0 0 1-2 0l-.15-.08a2 2 0 0 0-2.73.73l-.22.38a2 2 0 0 0 .73 2.73l.15.1a2 2 0 0 1 1 1.72v.51a2 2 0 0 1-1 1.74l-.15.09a2 2 0 0 0-.73 2.73l.22.38a2 2 0 0 0 2.73.73l.15-.08a2 2 0 0 1 2 0l.43.25a2 2 0 0 1 1 1.73V20a2 2 0 0 0 2 2h.44a2 2 0 0 0 2-2v-.18a2 2 0 0 1 1-1.73l.43-.25a2 2 0 0 1 2 0l.15.08a2 2 0 0 0 2.73-.73l.22-.39a2 2 0 0 0-.73-2.73l-.15-.08a2 2 0 0 1-1-1.74v-.5a2 2 0 0 1 1-1.74l.15-.09a2 2 0 0 0 .73-2.73l-.22-.38a2 2 0 0 0-2.73-.73l-.15.08a2 2 0 0 1-2 0l-.43-.25a2 2 0 0 1-1-1.73V4a2 2 0 0 0-2-2z"/><circle cx="12" cy="12" r="3"/></svg>
<svg class="ic" style="left:44.00px;top:1346.00px;color:#3db2e3;stroke-width:2;" width="40" height="40" viewBox="0 0 24 24"><path d="M3 12a9 9 0 0 1 9-9 9.75 9.75 0 0 1 6.74 2.74L21 8"/><path d="M21 3v5h-5"/><path d="M21 12a9 9 0 0 1-9 9 9.75 9.75 0 0 1-6.74-2.74L3 16"/><path d="M8 16H3v5"/></svg>
</body></html>
